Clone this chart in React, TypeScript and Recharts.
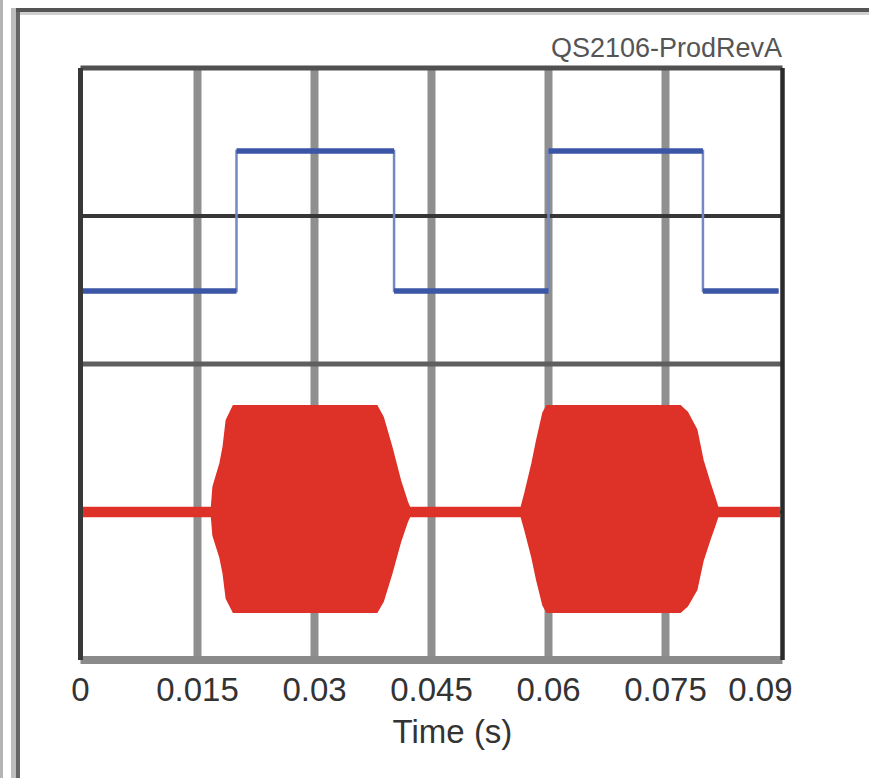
import React from 'react';
import { ComposedChart, Line, Area, XAxis, YAxis, ReferenceLine, Label } from 'recharts';

// ---- data ----
const xTicks = [0, 0.015, 0.03, 0.045, 0.06, 0.075, 0.09];
const xTickLabels = ['0', '0.015', '0.03', '0.045', '0.06', '0.075', '0.09'];
const gridX = [0.015, 0.03, 0.045, 0.06, 0.075];

// blue square wave (segments)
const blueStartLevel = 2.95;
const blueSegStart = [0, 0.02, 0.0402, 0.06, 0.0798];
const blueSegEnd = [0.02, 0.0402, 0.06, 0.0798, 0.0895];
const blueSegLevel = [0.986, 2.878, 0.986, 2.878, 0.986];

// red burst envelope
const redTime = [
  0.0003, 0.0168, 0.017, 0.0179, 0.0183, 0.0187, 0.0196, 0.038, 0.0388, 0.0399, 0.041, 0.0419, 0.0422,
  0.0565, 0.057, 0.0579, 0.0585, 0.0593, 0.0598, 0.0769, 0.0778, 0.079, 0.0798, 0.0807, 0.0813, 0.0817, 0.0897,
];
const redHigh = [
  -1.94, -1.94, -1.66, -1.34, -1.12, -0.76, -0.564, -0.564, -0.72, -1.12, -1.57, -1.865, -1.94,
  -1.94, -1.74, -1.34, -1.03, -0.66, -0.564, -0.564, -0.65, -0.89, -1.3, -1.61, -1.8, -1.94, -1.94,
];
const redLow = [
  -2.06, -2.06, -2.32, -2.62, -2.83, -3.17, -3.355, -3.355, -3.21, -2.83, -2.41, -2.13, -2.06,
  -2.06, -2.25, -2.62, -2.92, -3.26, -3.355, -3.355, -3.27, -3.05, -2.66, -2.37, -2.19, -2.06, -2.06,
];

const title = 'QS2106-ProdRevA';
const xLabel = 'Time (s)';

// ---- derived tables ----
const redData = redTime.map((t, i) => ({ t, r: [redLow[i], redHigh[i]] }));

const blueThin: { t: number; v: number | null }[] = [{ t: 0, v: blueStartLevel }];
blueSegStart.forEach((s, i) => {
  blueThin.push({ t: s, v: blueSegLevel[i] });
  blueThin.push({ t: blueSegEnd[i], v: blueSegLevel[i] });
});

const blueThick: { t: number; v: number | null }[] = [];
blueSegStart.forEach((s, i) => {
  blueThick.push({ t: s, v: blueSegLevel[i] });
  blueThick.push({ t: blueSegEnd[i], v: blueSegLevel[i] });
  blueThick.push({ t: blueSegEnd[i], v: null });
});

const FONT = '"Liberation Sans", Arial, Helvetica, sans-serif';

const XTick = (props: any) => {
  const { x, y, payload } = props;
  const i = xTicks.indexOf(payload.value);
  const last = i === xTicks.length - 1;
  return (
    <text
      x={last ? x + 10 : x}
      y={y + 41}
      textAnchor={last ? 'end' : 'middle'}
      fontSize={33}
      fill="#333"
      fontFamily={FONT}
    >
      {xTickLabels[i]}
    </text>
  );
};

const frame = (style: React.CSSProperties) => (
  <div style={{ position: 'absolute', ...style }} />
);

export default function App() {
  return (
    <div style={{ position: 'absolute', left: 0, top: 0, width: 869, height: 778, background: '#fff', overflow: 'hidden' }}>
      {frame({ left: 0, top: 0, width: 3, height: 778, background: '#b4b4b4' })}
      {frame({ left: 11, top: 8, width: 5, height: 770, background: '#bdbdbd' })}
      {frame({ left: 16, top: 8, width: 4, height: 770, background: '#666' })}
      {frame({ left: 16, top: 8, width: 853, height: 4, background: '#555' })}
      {frame({ left: 20, top: 12, width: 849, height: 3, background: '#cfcfcf' })}
      <div style={{ position: 'absolute', left: 0, top: 0 }}>
        <ComposedChart width={869} height={778} margin={{ top: 68, left: 80.5, right: 86.5, bottom: 20 }}>
          <XAxis
            dataKey="t"
            type="number"
            domain={[0, 0.09]}
            ticks={xTicks}
            allowDataOverflow
            tickLine={false}
            tickSize={0}
            tickMargin={0}
            height={98}
            axisLine={{ stroke: '#8a8a8a', strokeWidth: 8 }}
            tick={<XTick />}
            interval={0}
          >
            <Label
              content={(p: any) => {
                const vb = p.viewBox || { x: 80.5, y: 660, width: 702 };
                return (
                  <text
                    x={vb.x + vb.width / 2 + 21}
                    y={vb.y + 83}
                    textAnchor="middle"
                    fontSize={33}
                    fill="#333"
                    fontFamily={FONT}
                  >
                    {xLabel}
                  </text>
                );
              }}
            />
          </XAxis>
          <YAxis type="number" domain={[-4, 4]} hide allowDataOverflow />
          {gridX.map((g) => (
            <ReferenceLine key={'gx' + g} x={g} stroke="#8f8f8f" strokeWidth={8} zIndex={50} ifOverflow="extendDomain" />
          ))}
          <ReferenceLine y={2} stroke="#363636" strokeWidth={4} zIndex={50} />
          <ReferenceLine y={0} stroke="#5f5f5f" strokeWidth={5} zIndex={50} />
          <ReferenceLine y={-2} stroke="#444" strokeWidth={4} zIndex={50} />
          <Area
            data={redData}
            dataKey="r"
            type="linear"
            stroke="#de3128"
            strokeWidth={1.5}
            fill="#de3128"
            fillOpacity={1}
            isAnimationActive={false}
            dot={false}
            activeDot={false}
          />
          <Line
            data={blueThin}
            dataKey="v"
            type="linear"
            stroke="#7389c4"
            strokeWidth={2.5}
            dot={false}
            activeDot={false}
            isAnimationActive={false}
          />
          <Line
            data={blueThick}
            dataKey="v"
            type="linear"
            stroke="#3b55a7"
            strokeWidth={5.5}
            dot={false}
            activeDot={false}
            connectNulls={false}
            isAnimationActive={false}
          />
          <ReferenceLine y={4} stroke="#505050" strokeWidth={5} zIndex={700} />
          <ReferenceLine x={0} stroke="#383838" strokeWidth={5} zIndex={700} />
          <ReferenceLine x={0.09} stroke="#2a2a2a" strokeWidth={4.5} zIndex={700} />
        </ComposedChart>
      </div>
      <svg width={869} height={778} style={{ position: 'absolute', left: 0, top: 0, pointerEvents: 'none' }}>
        <text x={782} y={57} textAnchor="end" fontSize={27} fill="#555" fontFamily={FONT}>
          {title}
        </text>
      </svg>
    </div>
  );
}
